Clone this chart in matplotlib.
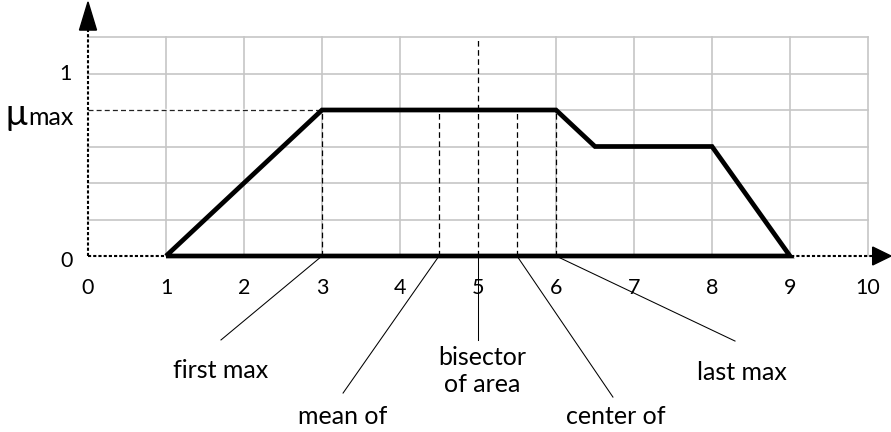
import matplotlib
matplotlib.use("Agg")
import matplotlib.pyplot as plt
from matplotlib.patches import Polygon

plt.rcParams['font.family'] = ['Lato', 'DejaVu Sans']

# ---- data ----
shape_x = [1, 3, 6, 6.5, 8, 9, 1]
shape_y = [0, 0.8, 0.8, 0.6, 0.6, 0, 0]
mu_max = 0.8
x_ticks = [0, 1, 2, 3, 4, 5, 6, 7, 8, 9, 10]
y_ticks = [0, 1]
grid_x = [1, 2, 3, 4, 6, 7, 8, 9, 10]
grid_y = [0.2, 0.4, 0.6, 0.8, 1.0, 1.2]
methods = ["first max", "mean of", "bisector\nof area", "center of", "last max"]
method_x = [3, 4.5, 5, 5.5, 6]
label_x = [1.70, 3.26, 5.05, 6.76, 8.38]
label_y = [-0.625, -0.882, -0.63, -0.882, -0.636]
line_end_x = [1.705, 3.27, 5.0, 6.73, 8.295]
line_end_y = [-0.46, -0.751, -0.46, -0.773, -0.466]

fig = plt.figure(figsize=(8.91, 4.32), dpi=100)
ax = fig.add_axes([0, 0, 1, 1])
ax.set_xlim(-88 / 78, 803 / 78)
ax.set_ylim(-176 / 182.5, 256 / 182.5)
ax.axis('off')

gc = '#c6c6c6'
# grid
for gx in grid_x:
    ax.plot([gx, gx], [0, 1.2], color=gc, lw=1.2, zorder=1)
for gy in grid_y:
    ax.plot([0, 10], [gy, gy], color=gc, lw=1.2, zorder=1)

# mu_max reference line from 0 to 3
ax.plot([0, 3], [mu_max, mu_max], color='white', lw=1.6, zorder=1.5)
ax.plot([0, 3], [mu_max, mu_max], color='#222222', lw=0.9, ls=(0, (4, 2.5)), zorder=2)

# axes (dotted)
ax.plot([0, 0], [0, 1.24], color='black', lw=1.5, ls=(0, (1.5, 1)), zorder=3)
ax.plot([0, 10.06], [0, 0], color='black', lw=1.5, ls=(0, (1.5, 1)), zorder=3)
ax.add_patch(Polygon([[-0.109, 1.238], [0.109, 1.238], [0, 1.392]], closed=True,
                     color='black', zorder=4))
ax.add_patch(Polygon([[10.06, 0.049], [10.06, -0.049], [10.295, 0]], closed=True,
                     color='black', zorder=4))

# vertical dashed method lines
for mx in method_x:
    top = 1.2 if mx == 5 else mu_max
    ax.plot([mx, mx], [0, top], color='black', lw=0.9, ls=(0, (4.5, 2.8)), zorder=2)

# shape
ax.plot(shape_x, shape_y, color='black', lw=3.4, solid_joinstyle='miter',
        solid_capstyle='butt', zorder=5)

# annotation lines and texts
for mx, ex, ey, lx, ly, t in zip(method_x, line_end_x, line_end_y, label_x, label_y, methods):
    ax.plot([mx, ex], [0, ey], color='black', lw=0.75, zorder=2)
    ax.text(lx, ly, t, ha='center', va='center', fontsize=18, linespacing=1.2)

# tick labels
for t in x_ticks:
    ax.text(t, -0.175, str(t), ha='center', va='center', fontsize=15.5)
ax.text(-0.295, 1.0, '1', ha='center', va='center', fontsize=15.5)
ax.text(-0.27, -0.03, '0', ha='center', va='center', fontsize=15.5)

# mu max label
ax.text(-1.06, mu_max - 0.08, 'μ', ha='left', va='baseline', fontsize=26)
ax.text(-0.77, mu_max - 0.08, 'max', ha='left', va='baseline', fontsize=18)

fig.savefig('out.png', dpi=100)
